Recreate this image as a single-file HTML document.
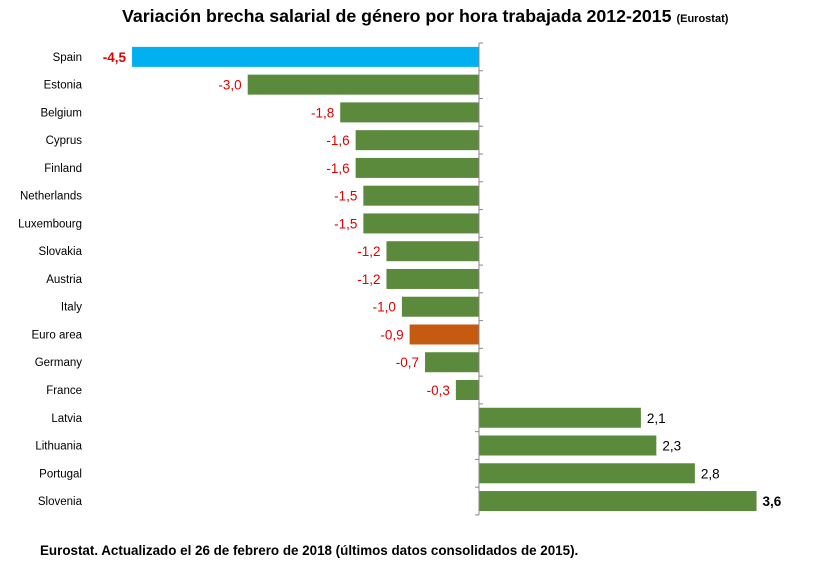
<!DOCTYPE html>
<html><head><meta charset="utf-8"><style>
body{margin:0;background:#fff;width:830px;height:565px;overflow:hidden;font-family:"Liberation Sans",sans-serif}
</style></head><body>
<svg width="830" height="565" xmlns="http://www.w3.org/2000/svg">
<text x="122" y="22" font-size="17.8" font-weight="bold" fill="#000">Variación brecha salarial de género por hora trabajada 2012-2015 <tspan font-size="11">(Eurostat)</tspan></text>
<g id="plot"></g>
<text x="40" y="555" font-size="13.4" font-weight="bold" fill="#000">Eurostat. Actualizado el 26 de febrero de 2018 (últimos datos consolidados de 2015).</text>
</svg>
<script>
const categories=["Spain","Estonia","Belgium","Cyprus","Finland","Netherlands","Luxembourg","Slovakia","Austria","Italy","Euro area","Germany","France","Latvia","Lithuania","Portugal","Slovenia"];
const values=[-4.5,-3.0,-1.8,-1.6,-1.6,-1.5,-1.5,-1.2,-1.2,-1.0,-0.9,-0.7,-0.3,2.1,2.3,2.8,3.6];
const NS="http://www.w3.org/2000/svg";
const g=document.getElementById('plot');
const x0=479,scale=77.1,plotTop=43,rowH=27.76,barH=20;
const xs=v=>x0+v*scale;
const yc=i=>plotTop+rowH*(i+0.5);
function mk(t,a){const e=document.createElementNS(NS,t);for(const k in a)e.setAttribute(k,a[k]);g.appendChild(e);return e;}
categories.forEach((c,i)=>{
  const v=values[i];
  let fill='#5b8a3c';
  if(c==='Spain')fill='#00b0f0';
  if(c==='Euro area')fill='#c55a11';
  const r=mk('rect',{x:Math.min(xs(v),x0),y:yc(i)-barH/2,width:Math.abs(xs(v)-x0),height:barH,fill:fill});
  
  
  const l=mk('text',{x:82,y:yc(i)+4,'font-size':11.5,'text-anchor':'end',fill:'#000'});
  l.textContent=c;
  
  
  const neg=v<0;
  const bold=(c==='Spain'||c==='Slovenia');
  const vl=mk('text',{x:neg?xs(v)-6:xs(v)+6,y:yc(i)+5,'font-size':13.5,'text-anchor':neg?'end':'start',fill:neg?'#e00000':'#000','font-weight':bold?'bold':'normal'});
  vl.textContent=v.toFixed(1).replace('.',',');
  
  
});
const ax=mk('line',{x1:x0,y1:plotTop,x2:x0,y2:plotTop+rowH*categories.length,stroke:'#888','stroke-width':1});


for(let k=0;k<=categories.length;k++){
  const y=plotTop+rowH*k;
  const right=k<=13;
  const t=mk('line',{x1:x0,y1:y,x2:right?x0+4:x0-4,y2:y,stroke:'#888','stroke-width':1});
  
  
}
</script>
</body></html>
